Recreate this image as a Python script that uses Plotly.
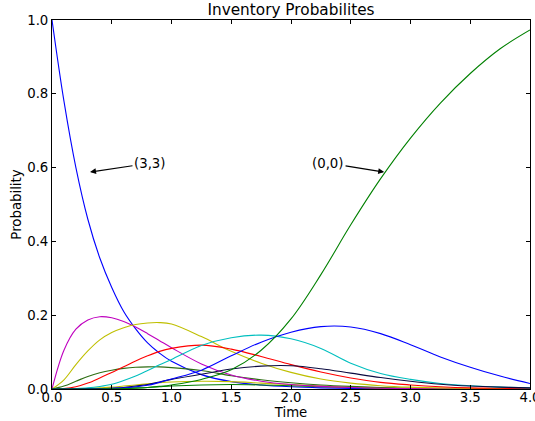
import plotly.graph_objects as go

times = [0, 0.1, 0.2, 0.3, 0.4, 0.5, 0.6, 0.7, 0.8, 0.9, 1.0, 1.25, 1.5, 1.75,
         2.0, 2.25, 2.5, 2.75, 3.0, 3.25, 3.5, 3.75, 4.0]

p_33 = [1.0, 0.78, 0.60, 0.46, 0.355, 0.275, 0.21, 0.163, 0.125, 0.097, 0.075, 0.039, 0.02, 0.011,
        0.006, 0.003, 0.0015, 0.001, 0.0005, 0.0003, 0.0002, 0.0001, 0.0]
p_magenta = [0, 0.105, 0.162, 0.187, 0.196, 0.193, 0.183, 0.168, 0.15, 0.131, 0.112, 0.068, 0.038, 0.021,
             0.012, 0.007, 0.004, 0.002, 0.001, 0.0006, 0.0003, 0.0002, 0.0001]
p_yellow = [0, 0.025, 0.066, 0.103, 0.133, 0.153, 0.166, 0.175, 0.179, 0.18, 0.176, 0.142, 0.102, 0.07,
            0.045, 0.027, 0.016, 0.009, 0.005, 0.003, 0.0015, 0.001, 0.0005]
p_red = [0, 0.001, 0.006, 0.016, 0.03, 0.045, 0.06, 0.076, 0.09, 0.102, 0.11, 0.119, 0.108, 0.088,
         0.066, 0.046, 0.03, 0.018, 0.011, 0.006, 0.003, 0.002, 0.001]
p_cyan = [0, 0.0, 0.001, 0.003, 0.007, 0.013, 0.023, 0.035, 0.05, 0.066, 0.08, 0.118, 0.139, 0.146,
          0.136, 0.11, 0.07, 0.042, 0.026, 0.015, 0.009, 0.005, 0.003]
p_blue2 = [0, 0.0, 0.0001, 0.0003, 0.0008, 0.002, 0.003, 0.006, 0.01, 0.018, 0.027, 0.051, 0.09, 0.127,
           0.154, 0.169, 0.168, 0.15, 0.12, 0.087, 0.059, 0.035, 0.015]
p_navy = [0, 0.0, 0.0, 0.0003, 0.001, 0.002, 0.004, 0.008, 0.012, 0.019, 0.026, 0.04, 0.054, 0.062,
          0.063, 0.055, 0.043, 0.031, 0.021, 0.013, 0.008, 0.005, 0.003]
p_dkgreen = [0, 0.008, 0.021, 0.034, 0.044, 0.051, 0.056, 0.059, 0.06, 0.06, 0.058, 0.05, 0.036, 0.025,
             0.017, 0.011, 0.007, 0.004, 0.002, 0.001, 0.001, 0.0005, 0.0003]
p_olive = [0, 0.0, 0.0005, 0.0015, 0.003, 0.005, 0.008, 0.011, 0.014, 0.017, 0.019, 0.021, 0.02, 0.016,
           0.012, 0.008, 0.005, 0.003, 0.002, 0.001, 0.0006, 0.0003, 0.0002]
p_green_small = [0, 0.0, 0.0, 0.0002, 0.0005, 0.001, 0.002, 0.003, 0.004, 0.006, 0.008, 0.011, 0.012, 0.011,
                 0.009, 0.006, 0.004, 0.002, 0.001, 0.0006, 0.0003, 0.0002, 0.0001]
p_00 = [0, 0, 0, 0, 0.0002, 0.0005, 0.001, 0.002, 0.004, 0.007, 0.011, 0.026, 0.052, 0.105,
        0.19, 0.31, 0.445, 0.57, 0.68, 0.775, 0.855, 0.922, 0.973]

x_ticks = [0, 0.5, 1, 1.5, 2, 2.5, 3, 3.5, 4]
y_ticks = [0, 0.2, 0.4, 0.6, 0.8, 1.0]

series = [
    ("(3,3)", p_33, "#0000ff"),
    ("green_small", p_green_small, "#008000"),
    ("olive", p_olive, "#bfbf00"),
    ("dkgreen", p_dkgreen, "#2f6e14"),
    ("magenta", p_magenta, "#bf00bf"),
    ("yellow", p_yellow, "#bfbf00"),
    ("red", p_red, "#ff0000"),
    ("cyan", p_cyan, "#00bfbf"),
    ("navy", p_navy, "#0a0a40"),
    ("blue2", p_blue2, "#0000ff"),
    ("(0,0)", p_00, "#008000"),
]

fig = go.Figure()
for name, vals, col in series:
    fig.add_trace(go.Scatter(x=times, y=vals, mode="lines", name=name,
                             line=dict(color=col, width=1.1, shape="spline", smoothing=1.0),
                             showlegend=False, hoverinfo="skip"))

font = "DejaVu Sans, Liberation Sans, sans-serif"
fig.update_layout(
    width=535, height=421,
    margin=dict(l=52, r=5, t=20, b=32, autoexpand=False),
    paper_bgcolor="white", plot_bgcolor="white",
    font=dict(family=font, size=13.3, color="black"),
    title=dict(text="Inventory Probabilites", x=0.5, xref="paper", xanchor="center",
               y=1 - 10 / 421, yref="container", yanchor="middle", font=dict(size=15.3)),
)
fig.update_xaxes(range=[0, 4], tickvals=x_ticks, tickformat=".1f", automargin=False,
                 ticklabeloverflow="allow", ticklabelstandoff=-4,
                 ticks="inside", ticklen=4, tickcolor="black", showline=True, linecolor="black",
                 linewidth=1, mirror="ticks", showgrid=False, zeroline=False,
                 title=dict(text="Time", standoff=2, font=dict(size=13.3)))
fig.update_yaxes(range=[0, 1], tickvals=y_ticks, tickformat=".1f", automargin=False,
                 ticks="inside", ticklen=4, tickcolor="black", showline=True, linecolor="black",
                 linewidth=1, mirror="ticks", showgrid=False, zeroline=False,
                 title=dict(text="Probability", standoff=2, font=dict(size=13.3)))

fig.add_annotation(x=0.318, y=0.588, ax=0.82, ay=0.612, xref="x", yref="y", axref="x", ayref="y",
                   text="(3,3)", showarrow=True, arrowhead=2, arrowsize=1, arrowwidth=1.2,
                   arrowcolor="black", font=dict(size=13.3))
fig.add_annotation(x=2.78, y=0.588, ax=2.31, ay=0.612, xref="x", yref="y", axref="x", ayref="y",
                   text="(0,0)", showarrow=True, arrowhead=2, arrowsize=1, arrowwidth=1.2,
                   arrowcolor="black", font=dict(size=13.3))

fig.write_html("out.html", config={"displayModeBar": False},
               post_script="document.body.style.margin='0';document.body.style.overflow='hidden';")
